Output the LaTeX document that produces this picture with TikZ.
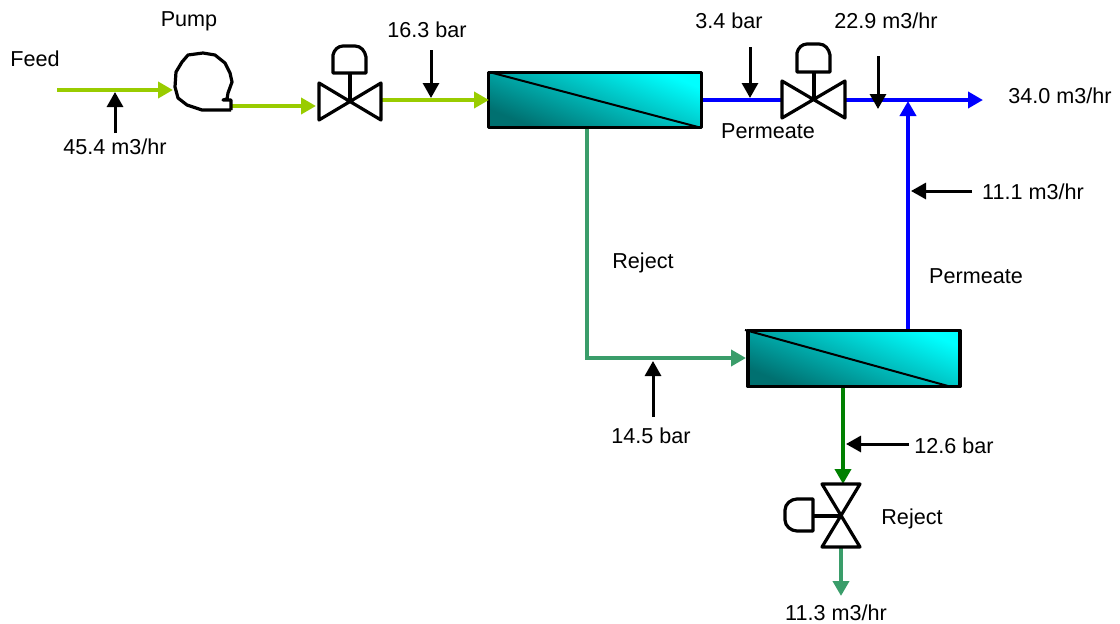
\documentclass[tikz,border=0pt]{standalone}
\usepackage{fontspec}
\setmainfont{Liberation Sans}
\usetikzlibrary{arrows.meta}
\definecolor{feedgreen}{RGB}{153,204,0}
\definecolor{seagreen}{RGB}{58,157,106}
\definecolor{darkgreen}{RGB}{0,128,0}
\definecolor{permblue}{RGB}{0,0,255}
\definecolor{darkteal}{RGB}{0,112,112}
\definecolor{midteal}{RGB}{0,218,218}
\tikzset{
  lbl/.style={font=\fontsize{21.6}{26}\selectfont,inner sep=0pt,text=black},
  flow/.style={line width=4.5pt,-{Triangle[length=15pt,width=16pt]}},
  plainflow/.style={line width=4.5pt},
  tag/.style={black,line width=3pt,-{Triangle[length=15pt,width=16pt]}},
  symb/.style={draw=black,line width=3.2pt,line join=round},
  memshade/.style={top color=cyan,middle color=midteal,bottom color=darkteal,shading angle=-22},
  memframe/.style={draw=black,line width=3.4pt,line join=round},
  diag/.style={draw=black,line width=2pt},
}
\begin{document}
\begin{tikzpicture}[x=1pt,y=-1pt]
\useasboundingbox (0,0) rectangle (1120,624);
% coordinates
\coordinate (feedstart) at (57,90);
\coordinate (pumpin) at (173,90);
\coordinate (pumpout) at (231,106);
\coordinate (v1in) at (316,106);
\coordinate (v1out) at (381,100);
\coordinate (v1c) at (350,102);
\coordinate (m1in) at (489,100);
\coordinate (m1out) at (703,100);
\coordinate (v2in) at (782,100);
\coordinate (v2c) at (814,100);
\coordinate (v2out) at (845,100);
\coordinate (prod) at (983,100);
\coordinate (m1rej) at (587,129);
\coordinate (corner) at (587,358);
\coordinate (m2in) at (746,358);
\coordinate (m2perm) at (908,329);
\coordinate (join) at (908,101);
\coordinate (m2rej) at (843,388);
\coordinate (v3in) at (843,484);
\coordinate (v3c) at (841,516);
\coordinate (v3out) at (841,547);
\coordinate (rejout) at (841,596);
% membranes
\shade[memshade] (489,72) rectangle (701,125);
\draw[memframe] (488.7,72.5) -- (701.3,72.5) -- (701.3,127.5) -- (488.7,127.5) -- cycle;
\draw[diag] (489,72) -- (698,127);
\shade[memshade] (748,330) rectangle (960,384.5);
\draw[memframe] (748,330.5) -- (960,330.5) -- (960,386.5) -- (748,386.5) -- cycle;
\draw[diag] (745,330) -- (948,386);
% process lines
\draw[flow,feedgreen] (feedstart) -- (pumpin);
\draw[flow,feedgreen] (pumpout) -- (v1in);
\draw[flow,feedgreen] (v1out) -- (m1in);
\draw[plainflow,permblue] (m1out) -- (v2in);
\draw[flow,permblue] (v2out) -- (prod);
\draw[flow,permblue] (m2perm) -- (join);
\draw[flow,seagreen,line width=4pt] (m1rej) -- (corner) -- (m2in);
\draw[flow,darkgreen] (m2rej) -- (v3in);
\draw[flow,seagreen] (v3out) -- (rejout);
% pump
\draw[symb] (231,110) -- (202,110) -- (187,105) -- (178,98) -- (175,87) -- (176,72) -- (182,62) -- (188,55) -- (203,53) -- (215,55) -- (225,63) -- (230,73) -- (232,82) -- (228,93) -- (227,99) -- (223,100) -- (231,100) -- (231,110);
% valve 1
\draw[symb] (319,83) -- (319,120) -- (381,83) -- (381,120) -- cycle;
\draw[symb] (v1c) -- (350,73);
\draw[symb] (333,73) -- (333,55) .. controls (334,50) and (338,46) .. (343,46) -- (355,46) .. controls (361,46) and (365,51) .. (366,57) -- (366,73) -- cycle;
% valve 2
\draw[symb] (782,81) -- (782,118) -- (845,81) -- (845,118) -- cycle;
\draw[symb] (v2c) -- (814,72);
\draw[symb] (797,72) -- (797,53) .. controls (798,48) and (802,44) .. (807,44) -- (819,44) .. controls (825,44) and (829,49) .. (830,55) -- (830,72) -- cycle;
% valve 3
\draw[symb] (822,484) -- (860,484) -- (822,547) -- (860,547) -- cycle;
\draw[symb] (v3c) -- (814,516);
\draw[symb] (813,499) -- (797,499) .. controls (791,499) and (785,504) .. (785,510) -- (785,520) .. controls (785,526) and (791,531) .. (797,531) -- (813,531) -- cycle;
% labels
\node[lbl] (tfeed) at (35,59) {Feed};
\node[lbl] (tpump) at (189,21) {Pump};
\node[lbl] (t454) at (115,147) {45.4 m3/hr};
\node[lbl] (t163) at (427,30) {16.3 bar};
\node[lbl] (t34) at (729,21) {3.4 bar};
\node[lbl] (t229) at (886,21) {22.9 m3/hr};
\node[lbl] (t340) at (1060,96) {34.0 m3/hr};
\node[lbl] (tperm1) at (768,131) {Permeate};
\node[lbl] (t111) at (1033,192) {11.1 m3/hr};
\node[lbl] (tperm2) at (976,276) {Permeate};
\node[lbl] (trej1) at (643,263) {Reject};
\node[lbl] (t145) at (651,436) {14.5 bar};
\node[lbl] (t126) at (954,446) {12.6 bar};
\node[lbl] (trej2) at (912,519) {Reject};
\node[lbl] (t113) at (836,613) {11.3 m3/hr};
% tag arrows
\coordinate (a1s) at (115,133); \coordinate (a1e) at (115,92);
\coordinate (a2s) at (431,50); \coordinate (a2e) at (431,98);
\coordinate (a3s) at (750,47); \coordinate (a3e) at (750,98);
\coordinate (a4s) at (878,56); \coordinate (a4e) at (878,109);
\coordinate (a5s) at (972,191); \coordinate (a5e) at (911,191);
\coordinate (a6s) at (653,417); \coordinate (a6e) at (653,361);
\coordinate (a7s) at (909,444); \coordinate (a7e) at (846,444);
\foreach \n in {1,...,7} {\draw[tag] (a\n s) -- (a\n e);}
\end{tikzpicture}
\end{document}
